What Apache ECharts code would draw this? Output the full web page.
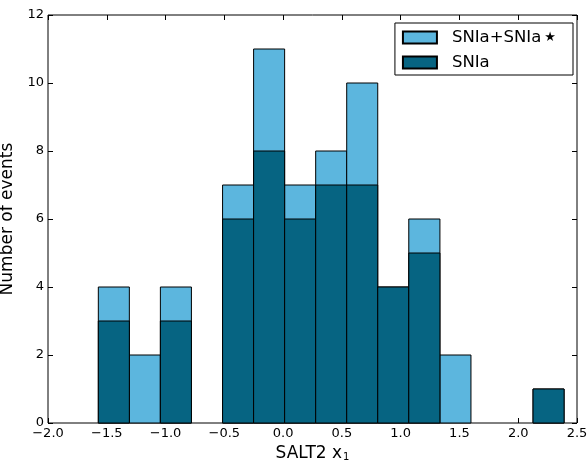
<!DOCTYPE html>
<html><head><meta charset="utf-8">
<script src="https://cdn.jsdelivr.net/npm/echarts@6/dist/echarts.min.js"></script>
<style>html,body{margin:0;padding:0;background:#fff}#c{width:588px;height:462px}</style>
</head><body><div id="c"></div>
<script>
const binEdges = [-1.572, -1.308, -1.044, -0.780, -0.515, -0.251, 0.013, 0.277, 0.541, 0.805, 1.069, 1.334, 1.598, 1.862, 2.126, 2.390];
const countsAll = [4, 2, 4, 0, 7, 11, 7, 8, 10, 4, 6, 2, 0, 0, 1];
const countsSNIa = [3, 0, 3, 0, 6, 8, 6, 7, 7, 4, 5, 0, 0, 0, 1];
const xTicks = [-2.0, -1.5, -1.0, -0.5, 0.0, 0.5, 1.0, 1.5, 2.0, 2.5];
const yTicks = [0, 2, 4, 6, 8, 10, 12];
const seriesNames = ['SNIa+SNIa\u2605', 'SNIa'];
const colAll = '#5cb6de', colSN = '#066482';

function mk(counts){ const d=[]; counts.forEach((c,i)=>{ if(c>0) d.push([binEdges[i],binEdges[i+1],c]); }); return d; }
function render(params, api){
  const p0 = api.coord([api.value(0), 0]);
  const p1 = api.coord([api.value(1), api.value(2)]);
  return {type:'rect', shape:{x:p0[0], y:p1[1], width:p1[0]-p0[0], height:p0[1]-p1[1]},
    style:{fill:api.visual('color'), stroke:'#000', lineWidth:1}};
}
const font = 'DejaVu Sans';
const fmtX = v => (v<0?'\u2212':'') + Math.abs(v).toFixed(1);
const chart = echarts.init(document.getElementById('c'));
const axCommon = {axisLine:{show:false, onZero:false}, axisTick:{show:true,inside:true,length:5,lineStyle:{color:'#000'}}, splitLine:{show:false}};
chart.setOption({
  animation:false,
  textStyle:{fontFamily:font},
  grid:{left:48, top:15, right:11, bottom:39, show:true, borderColor:'#000', borderWidth:1, backgroundColor:'transparent', containLabel:false, outerBoundsMode:'none'},
  legend:{right:15, top:23, orient:'vertical', borderColor:'#000', borderWidth:1, padding:[6,17,4,7], itemWidth:34, itemHeight:12, itemGap:8,
    textStyle:{fontFamily:font, fontSize:16.5, color:'#000', padding:[0,0,0,10], rich:{st:{fontSize:13, fontFamily:font, padding:[0,0,0,3]}}}, icon:'rect',
    formatter: n => n.replace('\u2605', '{st|\u2605}'),
    data:seriesNames},
  xAxis:[
    Object.assign({type:'value', min:-2.0, max:2.5, interval:0.5, name:'SALT2 x{s|1}', nameLocation:'middle', nameGap:19,
      nameTextStyle:{fontFamily:font, fontSize:17, color:'#000', rich:{s:{fontSize:10, verticalAlign:'bottom', padding:[9,0,0,1], fontFamily:font}}},
      axisLabel:{formatter:fmtX, color:'#000', fontSize:13, fontFamily:font, margin:4}}, axCommon),
    Object.assign({type:'value', position:'top', min:-2.0, max:2.5, interval:0.5, axisLabel:{show:false}}, axCommon)
  ],
  yAxis:[
    Object.assign({type:'value', min:0, max:12, interval:2, name:'Number of events', nameLocation:'middle', nameGap:24,
      nameTextStyle:{fontFamily:font, fontSize:17, color:'#000'},
      axisLabel:{color:'#000', fontSize:13, fontFamily:font, margin:4}}, axCommon),
    Object.assign({type:'value', position:'right', min:0, max:12, interval:2, axisLabel:{show:false}}, axCommon)
  ],
  series:[
    {name:seriesNames[0], type:'custom', renderItem:render, data:mk(countsAll), itemStyle:{color:colAll, borderColor:'#000', borderWidth:1}, encode:{x:[0,1], y:2}},
    {name:seriesNames[1], type:'custom', renderItem:render, data:mk(countsSNIa), itemStyle:{color:colSN, borderColor:'#000', borderWidth:1}, encode:{x:[0,1], y:2}}
  ]
});
</script></body></html>
